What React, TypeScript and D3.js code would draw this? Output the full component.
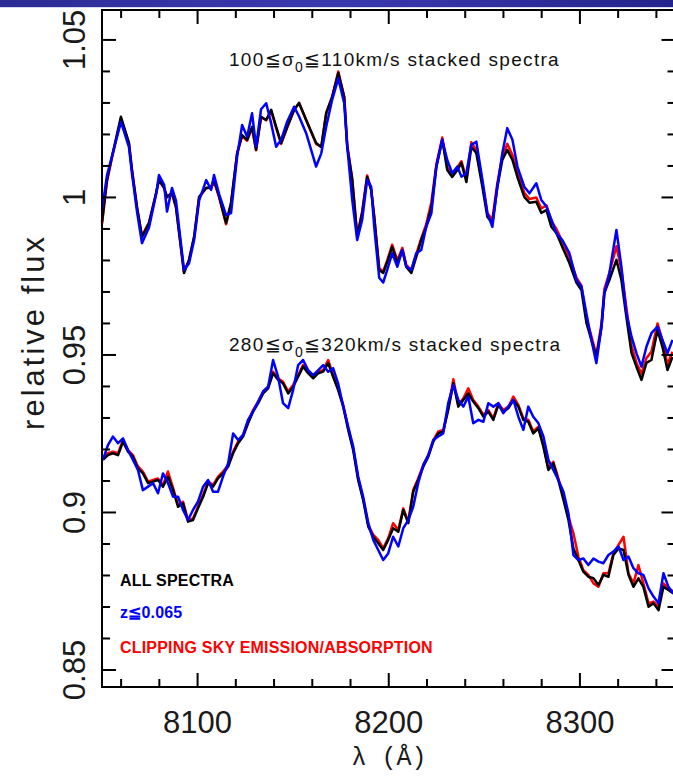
import React from 'react';
import * as d3 from 'd3';

const width = 673;
const height = 780;
const frame = { left: 102, right: 675.5, top: 10, bottom: 687 };
const sans = 'Liberation Sans, Arial, Helvetica, sans-serif';

// wavelength samples (Angstrom)
const upperWave = [
  8050, 8052.6, 8055.2, 8059.9, 8064.1, 8065.7, 8068.3, 8070.9, 8074.6, 8078.3,
  8079.8, 8082.5, 8084.0, 8086.6, 8088.7, 8092.9, 8095.5, 8098.2, 8100.8, 8104.5,
  8107.1, 8108.6, 8111.3, 8114.9, 8117.5, 8120.7, 8123.3, 8125.9, 8128.5, 8130.6,
  8133.2, 8135.9, 8138.5, 8141.1, 8143.7, 8146.9, 8150.5, 8153.1, 8156.8, 8162.0,
  8164.7, 8167.3, 8170.4, 8173.6, 8176.7, 8178.3, 8180.9, 8183.5, 8186.1, 8188.7,
  8190.8, 8192.4, 8195.0, 8197.1, 8199.2, 8201.8, 8204.5, 8207.1, 8209.2, 8211.8,
  8214.4, 8217.0, 8219.6, 8222.3, 8224.9, 8228.0, 8230.6, 8233.2, 8235.9, 8238.0,
  8240.6, 8243.2, 8245.8, 8249.0, 8251.6, 8254.2, 8256.8, 8259.4, 8262.0, 8264.7,
  8267.3, 8270.9, 8273.6, 8277.2, 8279.8, 8282.5, 8285.1, 8287.7, 8290.8, 8294.5,
  8298.2, 8300.8, 8303.4, 8306.0, 8308.6, 8311.3, 8312.8, 8315.4, 8319.1, 8321.7,
  8324.3, 8327.0, 8329.6, 8332.2, 8334.8, 8337.4, 8340.6, 8343.2, 8345.8, 8348.4,
];

// 100 <= sigma0 <= 110 km/s
const upperAll = [
  0.9922, 1.0056, 1.0129, 1.0256, 1.0173, 1.0087, 0.997, 0.9875, 0.9919, 1.0014,
  1.0056, 1.003, 1.0002, 1.0014, 0.997, 0.976, 0.9802, 0.9875, 1.0002, 1.003,
  1.0033, 1.0056, 1.0002, 0.9919, 0.9983, 1.0141, 1.0198, 1.0183, 1.0224, 1.0151,
  1.0256, 1.0246, 1.0278, 1.0224, 1.0173, 1.0224, 1.0278, 1.03, 1.0246, 1.0173,
  1.016, 1.0268, 1.0319, 1.0395, 1.0319, 1.016, 1.0056, 0.9875, 0.9951, 1.0065,
  1.0024, 0.9938, 0.977, 0.976, 0.9795, 0.9843, 0.9792, 0.9833, 0.9779, 0.976,
  0.9811, 0.9865, 0.9906, 0.997, 1.0097, 1.0183, 1.0087, 1.0065, 1.0087, 1.011,
  1.0049, 1.016, 1.0141, 1.0033, 0.9938, 0.9919, 1.0033, 1.0119, 1.0151, 1.0119,
  1.0065, 1.0002, 0.9983, 0.9986, 0.9951, 0.996, 0.9906, 0.9887, 0.9843, 0.9792,
  0.9729, 0.9706, 0.9602, 0.9548, 0.9494, 0.9589, 0.9697, 0.9738, 0.9802, 0.9738,
  0.9621, 0.9506, 0.9462, 0.9421, 0.9475, 0.9484, 0.9579, 0.9525, 0.9452, 0.9494,
];
const upperLowZ = [
  0.996, 1.007, 1.013, 1.024, 1.016, 1.0075, 0.9955, 0.9855, 0.9905, 1.001,
  1.0071, 1.004, 0.9955, 1.003, 0.999, 0.977, 0.979, 0.9865, 0.999, 1.0055,
  1.0024, 1.0071, 1.001, 0.9944, 0.995, 1.013, 1.023, 1.0193, 1.0267, 1.0161,
  1.028, 1.0299, 1.0235, 1.0161, 1.0183, 1.0241, 1.0288, 1.0257, 1.0204, 1.0098,
  1.014, 1.0225, 1.031, 1.0378, 1.0299, 1.0161, 0.9992, 0.9865, 0.9929, 1.0056,
  1.0034, 0.9907, 0.9745, 0.973, 0.977, 0.9823, 0.978, 0.9833, 0.978, 0.977,
  0.9823, 0.9833, 0.9907, 0.995, 1.0098, 1.0183, 1.0119, 1.0077, 1.0098, 1.0066,
  1.0077, 1.0167, 1.0177, 1.0056, 0.995, 0.9907, 1.0034, 1.014, 1.022, 1.0183,
  1.0098, 1.0034, 1.0013, 1.0045, 0.9992, 0.9971, 0.9929, 0.9886, 0.9865, 0.9823,
  0.9738, 0.9717, 0.9632, 0.9548, 0.9474, 0.959, 0.9696, 0.9759, 0.9897, 0.978,
  0.9632, 0.9558, 0.9505, 0.9463, 0.9526, 0.9569, 0.959, 0.9548, 0.9505, 0.9548,
];
const upperClip = [
  0.9915, 1.005, 1.0125, 1.025, 1.017, 1.0085, 0.9968, 0.9878, 0.992, 1.0012,
  1.0055, 1.003, 1.0, 1.0014, 0.9968, 0.9765, 0.98, 0.9875, 1.0, 1.003,
  1.003, 1.005, 1.0, 0.9915, 0.998, 1.014, 1.0195, 1.018, 1.022, 1.015,
  1.0255, 1.0245, 1.0275, 1.022, 1.017, 1.0222, 1.0278, 1.03, 1.0246, 1.017,
  1.016, 1.0268, 1.032, 1.04, 1.032, 1.0165, 1.006, 0.988, 0.9955, 1.007,
  1.0025, 0.994, 0.9775, 0.9765, 0.98, 0.985, 0.98, 0.984, 0.9785, 0.977,
  0.982, 0.987, 0.9915, 0.9985, 1.0105, 1.019, 1.0095, 1.0075, 1.0095, 1.0115,
  1.006, 1.0175, 1.015, 1.0045, 0.995, 0.993, 1.0045, 1.013, 1.017, 1.0135,
  1.008, 1.0015, 0.9995, 1.0, 0.9965, 0.9975, 0.9925, 0.99, 0.986, 0.981,
  0.9745, 0.972, 0.9615, 0.956, 0.95, 0.96, 0.971, 0.976, 0.9845, 0.977,
  0.965, 0.953, 0.9475, 0.944, 0.949, 0.951, 0.96, 0.9545, 0.947, 0.951,
];

const lowerWave = [
  8050.5, 8053.1, 8055.7, 8058.4, 8061.0, 8063.6, 8066.2, 8068.8, 8071.4, 8074.1,
  8076.7, 8079.3, 8081.9, 8084.5, 8087.2, 8089.8, 8092.4, 8095.0, 8097.6, 8100.2,
  8102.9, 8105.5, 8108.1, 8110.7, 8113.3, 8116.0, 8118.6, 8121.2, 8123.8, 8126.4,
  8129.0, 8131.7, 8134.3, 8136.9, 8139.5, 8142.1, 8144.7, 8147.4, 8150.0, 8152.6,
  8155.2, 8157.8, 8160.5, 8163.1, 8165.7, 8168.3, 8170.9, 8173.5, 8176.2, 8178.8,
  8181.4, 8184.0, 8186.6, 8189.3, 8191.9, 8194.5, 8197.1, 8199.7, 8202.3, 8205.0,
  8207.6, 8210.2, 8212.8, 8215.4, 8218.1, 8220.7, 8223.3, 8225.9, 8228.5, 8231.1,
  8233.8, 8236.4, 8239.0, 8241.6, 8244.2, 8246.9, 8249.5, 8252.1, 8254.7, 8257.3,
  8259.9, 8262.6, 8265.2, 8267.8, 8270.4, 8273.0, 8275.6, 8278.3, 8280.9, 8283.5,
  8286.1, 8288.7, 8291.4, 8294.0, 8296.6, 8299.2, 8301.8, 8304.4, 8307.1, 8309.7,
  8312.3, 8314.9, 8317.5, 8320.2, 8322.8, 8325.4, 8328.0, 8330.6, 8333.2, 8335.9,
  8338.5, 8341.1, 8343.7, 8346.3, 8348.9,
];

// 280 <= sigma0 <= 320 km/s
const lowerAll = [
  0.9167, 0.9182, 0.9188, 0.9182, 0.9225, 0.9193, 0.9177, 0.914, 0.9124, 0.9093,
  0.9098, 0.9103, 0.9082, 0.9114, 0.9071, 0.9018, 0.9029, 0.8971, 0.8976, 0.9013,
  0.905, 0.9093, 0.9082, 0.9108, 0.9124, 0.9146, 0.9188, 0.922, 0.9241, 0.9283,
  0.932, 0.9347, 0.9378, 0.9394, 0.9442, 0.9421, 0.941, 0.9378, 0.9399, 0.9431,
  0.9463, 0.9442, 0.9426, 0.9442, 0.9447, 0.9474, 0.9431, 0.9389, 0.9336, 0.9262,
  0.9198, 0.9103, 0.904, 0.8955, 0.8923, 0.8902, 0.8881, 0.8913, 0.895, 0.8939,
  0.9008, 0.8966, 0.9066, 0.9103, 0.9146, 0.9177, 0.9225, 0.9251, 0.9257, 0.9325,
  0.941, 0.9336, 0.9357, 0.9378, 0.9352, 0.9331, 0.9304, 0.932, 0.9294, 0.9341,
  0.932, 0.9331, 0.9357, 0.9336, 0.9294, 0.9288, 0.9251, 0.9267, 0.9209, 0.9135,
  0.9156, 0.9103, 0.904, 0.8976, 0.8886, 0.8849, 0.8812, 0.8796, 0.8791, 0.877,
  0.8802, 0.8796, 0.8865, 0.8886, 0.8881, 0.8802, 0.8764, 0.8791, 0.8764, 0.8701,
  0.8712, 0.869, 0.8764, 0.8754, 0.8743,
];
const lowerLowZ = [
  0.9167, 0.9214, 0.9241, 0.922, 0.9235, 0.9198, 0.9167, 0.9135, 0.9071, 0.9082,
  0.9093, 0.9061, 0.9124, 0.9093, 0.905, 0.905, 0.9008, 0.8976, 0.9008, 0.9034,
  0.9082, 0.9103, 0.9066, 0.9066, 0.9114, 0.9156, 0.9251, 0.923, 0.9246, 0.9294,
  0.932, 0.9352, 0.9384, 0.9399, 0.9484, 0.9431, 0.9347, 0.9331, 0.9389, 0.9468,
  0.9484, 0.9452, 0.9436, 0.9452, 0.9468, 0.9447, 0.9458, 0.941, 0.9336, 0.9272,
  0.9209, 0.9114, 0.905, 0.8966, 0.8913, 0.8881, 0.8849, 0.887, 0.8923, 0.8892,
  0.895, 0.8976, 0.9018, 0.9093, 0.9151, 0.9182, 0.923, 0.9241, 0.9251, 0.9347,
  0.9405, 0.9357, 0.9336, 0.9368, 0.9283, 0.9294, 0.9288, 0.9347, 0.9336, 0.9347,
  0.9315, 0.9336, 0.9357, 0.9304, 0.9262, 0.9336, 0.9304, 0.9283, 0.9241, 0.9167,
  0.9135, 0.9103, 0.9066, 0.8997, 0.8865, 0.8849, 0.8854, 0.8833, 0.8854, 0.8844,
  0.8839, 0.8865, 0.8876, 0.8892, 0.8849, 0.886, 0.8823, 0.8807, 0.8802, 0.8759,
  0.8733, 0.8712, 0.8807, 0.8764, 0.8743,
];
const lowerClip = [
  0.9172, 0.9188, 0.9193, 0.9188, 0.923, 0.9198, 0.9182, 0.9146, 0.913, 0.9098,
  0.9103, 0.9108, 0.9087, 0.913, 0.9077, 0.9024, 0.9034, 0.8976, 0.8981, 0.9018,
  0.9056, 0.9098, 0.9087, 0.9114, 0.913, 0.9151, 0.9193, 0.9225, 0.9246, 0.9288,
  0.9325, 0.9352, 0.9384, 0.9399, 0.9447, 0.9426, 0.9415, 0.9384, 0.9405, 0.9436,
  0.9468, 0.9447, 0.9431, 0.9447, 0.9452, 0.9484, 0.9436, 0.9394, 0.9341, 0.9267,
  0.9204, 0.9108, 0.9045, 0.896, 0.8929, 0.8913, 0.8886, 0.8918, 0.8966, 0.8944,
  0.9013, 0.8971, 0.9071, 0.9108, 0.9151, 0.9182, 0.923, 0.9257, 0.9262, 0.9331,
  0.9423, 0.9341, 0.9362, 0.9394, 0.9357, 0.9336, 0.931, 0.9325, 0.9299, 0.9347,
  0.9325, 0.9336, 0.9368, 0.9341, 0.9299, 0.9294, 0.9257, 0.9272, 0.9214, 0.914,
  0.9161, 0.9108, 0.905, 0.8987, 0.8934, 0.886, 0.8817, 0.8802, 0.8775, 0.8764,
  0.8807, 0.8807, 0.887, 0.8897, 0.8923, 0.8807, 0.8775, 0.8833, 0.8775, 0.8712,
  0.8717, 0.8701, 0.8775, 0.8759, 0.8749,
];

const xMajor = [8100, 8200, 8300];
const yMajor = [0.85, 0.9, 0.95, 1, 1.05];
const legendItems = [
  { label: 'ALL SPECTRA', color: '#000000' },
  { label: 'z≦0.065', color: '#0000ff' },
  { label: 'CLIPPING SKY EMISSION/ABSORPTION', color: '#ff0000' },
];

export default function App() {
  const x = d3.scaleLinear().domain([8050, 8350]).range([frame.left, frame.right]);
  const y = d3.scaleLinear().domain([0.8446, 1.0595]).range([frame.bottom, frame.top]);

  const path = (wave: number[], flux: number[]) =>
    d3
      .line<number>()
      .x((_, i) => x(wave[i]))
      .y((d) => y(d))(flux) || '';

  const xMinor = d3.range(8060, 8350, 20);
  const yMinor = d3.range(85, 106).map((v) => v / 100);

  const spectra = [
    { wave: upperWave, series: [upperClip, upperAll, upperLowZ] },
    { wave: lowerWave, series: [lowerClip, lowerAll, lowerLowZ] },
  ];
  const colors = ['#ff0000', '#000000', '#0000ff'];

  const isMajorX = (v: number) => xMajor.includes(v);
  const isMajorY = (v: number) => yMajor.some((m) => Math.abs(m - v) < 1e-6);

  return (
    <svg
      width={width}
      height={height}
      style={{ position: 'absolute', left: 0, top: 0, background: '#fff' }}
    >
      <defs>
        <linearGradient id="hdr" x1="0" x2="1" y1="0" y2="0">
          <stop offset="0%" stopColor="#2c2c96" />
          <stop offset="50%" stopColor="#3a3ab0" />
          <stop offset="100%" stopColor="#24248c" />
        </linearGradient>
      </defs>
      <rect x={0} y={0} width={width} height={height} fill="#fff" />
      <rect x={0} y={0} width={width} height={7} fill="url(#hdr)" />
      <rect x={0} y={7} width={width} height={1} fill="#d6d6ec" />

      {/* spectra */}
      {spectra.map((s, si) =>
        s.series.map((flux, ci) => (
          <path
            key={`${si}-${ci}`}
            d={path(s.wave, flux)}
            fill="none"
            stroke={colors[ci]}
            strokeWidth={2.5}
            strokeLinejoin="round"
          />
        ))
      )}

      {/* frame */}
      <rect
        x={frame.left}
        y={frame.top}
        width={frame.right - frame.left}
        height={frame.bottom - frame.top}
        fill="none"
        stroke="#000"
        strokeWidth={2}
      />

      {/* x ticks, bottom and top */}
      {xMinor.map((v) => {
        const len = isMajorX(v) ? 14 : 8;
        return (
          <g key={`xt${v}`} stroke="#000" strokeWidth={2}>
            <line x1={x(v)} x2={x(v)} y1={frame.bottom} y2={frame.bottom - len} />
            <line x1={x(v)} x2={x(v)} y1={frame.top} y2={frame.top + len} />
          </g>
        );
      })}
      {/* y ticks, left and right */}
      {yMinor.map((v) => {
        const len = isMajorY(v) ? 14 : 8;
        return (
          <g key={`yt${v}`} stroke="#000" strokeWidth={2}>
            <line x1={frame.left} x2={frame.left + len} y1={y(v)} y2={y(v)} />
            <line x1={frame.right} x2={frame.right - len} y1={y(v)} y2={y(v)} />
          </g>
        );
      })}

      {/* tick labels */}
      {xMajor.map((v) => (
        <text key={`xl${v}`} x={x(v)} y={733} textAnchor="middle" fontFamily={sans} fontSize={31} fill="#1a1a1a">
          {v}
        </text>
      ))}
      {yMajor.map((v) => (
        <text
          key={`yl${v}`}
          transform={`translate(85,${y(v)}) rotate(-90)`}
          textAnchor="middle"
          fontFamily={sans}
          fontSize={31}
          fill="#1a1a1a"
        >
          {String(v)}
        </text>
      ))}

      {/* axis titles */}
      <text
        transform="translate(44,332) rotate(-90)"
        textAnchor="middle"
        fontFamily={sans}
        fontSize={31}
        letterSpacing={3}
        fill="#1a1a1a"
      >
        relative flux
      </text>
      <text x={389} y={765} textAnchor="middle" fontFamily="Liberation Mono, DejaVu Sans Mono, monospace" fontSize={25} fill="#1a1a1a">
        λ (Å)
      </text>

      {/* annotations */}
      <text x={229} y={66} fontFamily={sans} fontSize={19} letterSpacing={1.3} fill="#111">
        100≦σ<tspan dy={6} fontSize={14}>0</tspan>
        <tspan dy={-6}>≦110km/s stacked spectra</tspan>
      </text>
      <text x={229} y={351} fontFamily={sans} fontSize={19} letterSpacing={1.3} fill="#111">
        280≦σ<tspan dy={6} fontSize={14}>0</tspan>
        <tspan dy={-6}>≦320km/s stacked spectra</tspan>
      </text>

      {/* legend */}
      {legendItems.map((d, i) => (
        <text
          key={d.label}
          x={120}
          y={[586, 618, 653][i]}
          fontFamily={sans}
          fontWeight="bold"
          fontSize={16}
          letterSpacing={0.2}
          fill={d.color}
        >
          {d.label}
        </text>
      ))}
    </svg>
  );
}
